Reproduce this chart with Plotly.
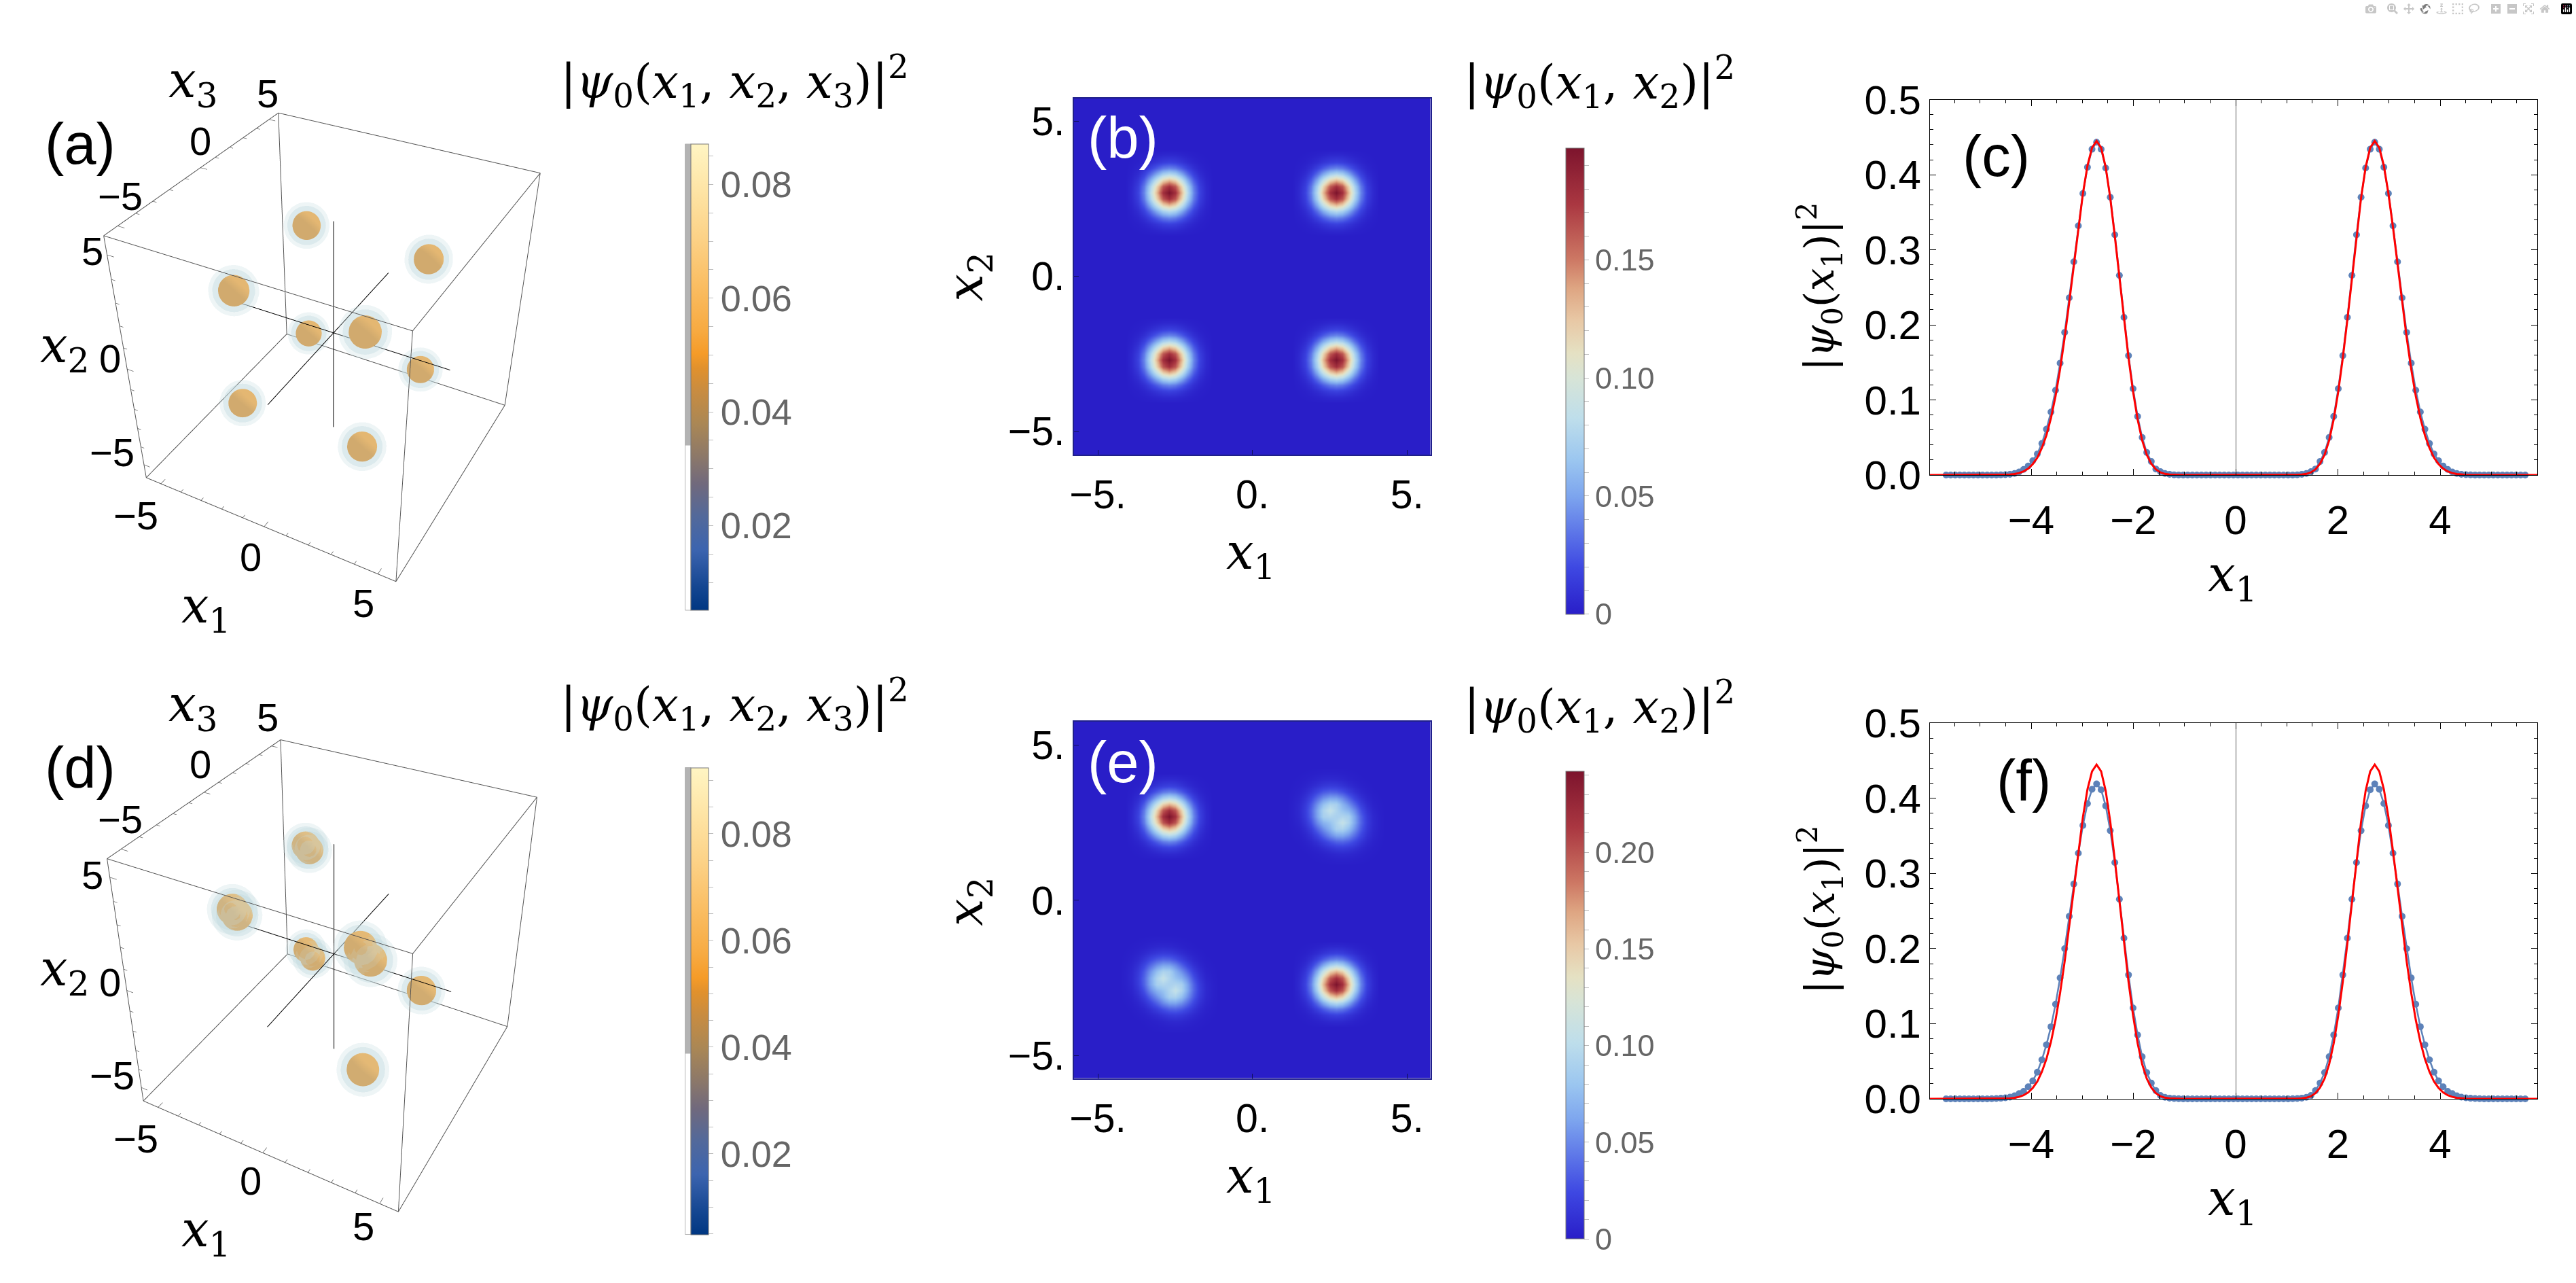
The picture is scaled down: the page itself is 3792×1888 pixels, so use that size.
import numpy as np
import plotly.graph_objects as go

W, H = 3792, 1888

# ---- data -----------------------------------------------------------------
# panels (a)/(d): density lobes (x1, x2, x3)
a_x1 = [-2.72, -2.72, -2.72, -2.72, 2.72, 2.72, 2.72, 2.72]
a_x2 = [2.72, 2.72, -2.72, -2.72, 2.72, 2.72, -2.72, -2.72]
a_x3 = [-2.72, 2.72, -2.72, 2.72, -2.72, 2.72, -2.72, 2.72]
a_core_r = [0.58, 0.58, 0.58, 0.58, 0.58, 0.58, 0.58, 0.58]

d_x1 = [-2.81, -2.63, -2.82, -2.62, -2.89, -2.55, 2.52, 2.92, 2.72, 2.72]
d_x2 = [2.81, 2.63, 2.82, 2.62, -2.55, -2.89, 2.92, 2.52, -2.72, -2.72]
d_x3 = [2.72, 2.72, -2.72, -2.72, 2.72, 2.72, -2.72, -2.72, 2.72, -2.72]
d_core_r = [0.58, 0.58, 0.58, 0.58, 0.56, 0.56, 0.58, 0.58, 0.62, 0.62]

box_edge = 5.75
axis_half = 5.0
tick_3d = [-5, -4, -3, -2, -1, 0, 1, 2, 3, 4, 5]

a_bar_min, a_bar_max, a_iso = 0.0051, 0.0871, 0.0520
d_bar_min, d_bar_max, d_iso = 0.0049, 0.0924, 0.0560

# panels (b)/(e): one read-off peak, quarter of it, offsets in steps of 0.2
peak_quadrant = [
    [1.000, 0.905, 0.670, 0.407, 0.202, 0.082, 0.027],
    [0.905, 0.819, 0.607, 0.368, 0.183, 0.074, 0.025],
    [0.670, 0.607, 0.449, 0.273, 0.135, 0.055, 0.018],
    [0.407, 0.368, 0.273, 0.165, 0.082, 0.033, 0.011],
    [0.202, 0.183, 0.135, 0.082, 0.041, 0.017, 0.0055],
    [0.082, 0.074, 0.055, 0.033, 0.017, 0.0067, 0.0022],
    [0.027, 0.025, 0.018, 0.011, 0.0055, 0.0022, 0.0008],
]
notch_quadrant = [[1.0, 0.5], [0.5, 0.2]]
grid_axis = [round(-5.9 + 0.2 * k, 1) for k in range(60)]

b_px = [-2.7, 2.7, -2.7, 2.7]
b_py = [2.7, 2.7, -2.7, -2.7]
b_amp = [0.1974, 0.1974, 0.1974, 0.1974]
b_max = 0.1974

e_px = [-2.7, 2.7, 2.5, 2.9, -2.9, -2.5]
e_py = [2.7, -2.7, 2.9, 2.5, -2.5, -2.9]
e_amp = [0.242, 0.242, 0.078, 0.078, 0.078, 0.078]
e_notch_x = [2.7, 2.9, 2.5, -2.7, -2.5, -2.9]
e_notch_y = [2.7, 2.9, 2.5, -2.7, -2.5, -2.9]
e_notch_amp = [-0.03, -0.02, -0.02, -0.03, -0.02, -0.02]
e_max = 0.242

# panels (c)/(f): x>0 half of each curve (the left half mirrors it)
dot_x = [round(0.0446 + 0.0892 * k, 4) for k in range(64)]
c_dots = [0, 0, 0, 0, 0, 0, 0, 0, 0, 0, 0, 0, 0.0001, 0.0003, 0.001, 0.002,
          0.0045, 0.008, 0.018, 0.03, 0.05, 0.078, 0.115, 0.159, 0.21, 0.266, 0.32, 0.37,
          0.409, 0.434, 0.4434, 0.434, 0.41, 0.375, 0.332, 0.284, 0.236, 0.19, 0.149, 0.113,
          0.084, 0.061, 0.042, 0.028, 0.019, 0.012, 0.0075, 0.004, 0.002, 0.001, 0.0005,
          0.0003, 0.0001, 0, 0, 0, 0, 0, 0, 0, 0, 0, 0, 0]
f_dots = [0, 0, 0, 0, 0, 0, 0, 0, 0, 0, 0, 0, 0.0002, 0.0005, 0.001, 0.002,
          0.0046, 0.011, 0.021, 0.035, 0.056, 0.085, 0.121, 0.165, 0.214, 0.2657, 0.3146, 0.357,
          0.39, 0.4115, 0.4192, 0.412, 0.393, 0.364, 0.327, 0.286, 0.243, 0.2, 0.161, 0.126,
          0.096, 0.072, 0.052, 0.0355, 0.024, 0.016, 0.01, 0.0069, 0.004, 0.0023, 0.0014,
          0.0008, 0.0004, 0.0002, 0, 0, 0, 0, 0, 0, 0, 0, 0, 0]
red_y = [0, 0, 0, 0, 0, 0, 0, 0, 0, 0, 0, 0, 0.0001, 0.0003, 0.0007, 0.0015,
         0.0035, 0.0075, 0.015, 0.027, 0.046, 0.074, 0.111, 0.156, 0.207, 0.263, 0.318, 0.369,
         0.41, 0.436, 0.445, 0.436, 0.412, 0.375, 0.33, 0.28, 0.23, 0.183, 0.141, 0.105,
         0.076, 0.053, 0.036, 0.023, 0.0145, 0.0085, 0.0048, 0.0026, 0.0013, 0.0006, 0.0003,
         0.0001, 0, 0, 0, 0, 0, 0, 0, 0, 0, 0, 0, 0]
red_ends = [-6.02, 5.93]

# ---- colour scales ----------------------------------------------------------
heat_scale = [[0, "rgb(41,30,200)"], [0.1, "rgb(62,72,226)"], [0.254, "rgb(125,165,238)"],
              [0.33, "rgb(155,198,240)"], [0.42, "rgb(190,222,235)"], [0.506, "rgb(215,228,215)"],
              [0.56, "rgb(229,225,195)"], [0.63, "rgb(232,200,165)"], [0.7, "rgb(222,165,130)"],
              [0.761, "rgb(205,120,100)"], [0.88, "rgb(170,55,65)"], [1, "rgb(125,20,45)"]]
iso_scale = [[0, "rgb(0,55,130)"], [0.05, "rgb(20,70,145)"], [0.13, "rgb(60,100,175)"],
             [0.2, "rgb(82,105,155)"], [0.27, "rgb(112,105,125)"], [0.33, "rgb(140,120,105)"],
             [0.4, "rgb(170,135,85)"], [0.47, "rgb(200,140,65)"], [0.52, "rgb(225,145,45)"],
             [0.55, "rgb(245,155,40)"], [0.6, "rgb(247,170,65)"], [0.7, "rgb(250,190,100)"],
             [0.8, "rgb(252,210,135)"], [0.9, "rgb(254,228,165)"], [1, "rgb(255,245,195)"]]

SANS = "Liberation Sans"
SERIF = "DejaVu Serif"
CB_GREY = "#666666"
TITLE_SIZE = 69
AXIS_SIZE = 72
PANEL_SIZE = 85


def px_x(v):
    return v / W


def px_y(v):
    return 1 - v / H


fig = go.Figure()
notes = []
shapes = []


def note(x, y, text, size=58, color="black", family=SANS, angle=0):
    notes.append(dict(x=px_x(x), y=px_y(y), xref="paper", yref="paper", text=text, showarrow=False,
                      font=dict(size=size, color=color, family=family), xanchor="center",
                      yanchor="middle", textangle=angle))


def colorbar(x0, x1, y0, y1, vals, labels, size):
    return dict(x=px_x(x0), xanchor="left", xpad=0, y=px_y(y0), yanchor="top",
                ypad=0, len=(y1 - y0) / H, lenmode="fraction", thickness=x1 - x0, thicknessmode="pixels",
                tickmode="array", tickvals=vals, ticktext=labels, ticks="outside", ticklen=7,
                tickwidth=1, tickcolor="#bdbdbd", outlinewidth=1, outlinecolor="#777777",
                tickfont=dict(family=SANS, size=size, color=CB_GREY))


# ---- 3D panels ----------------------------------------------------------------
def spheres(xs1, xs2, xs3, radii):
    vx, vy, vz, fi, fj, fk = [], [], [], [], [], []
    nlat, nlon = 16, 24
    th = np.linspace(0, np.pi, nlat + 1)
    ph = np.linspace(0, 2 * np.pi, nlon, endpoint=False)
    for c1, c2, c3, r in zip(xs1, xs2, xs3, radii):
        base = len(vx)
        for t in th:
            for p in ph:
                vx.append(c1 + r * np.sin(t) * np.cos(p))
                vy.append(c3 + r * np.sin(t) * np.sin(p))
                vz.append(c2 + r * np.cos(t))
        for a in range(nlat):
            for b in range(nlon):
                p1 = base + a * nlon + b
                p2 = base + a * nlon + (b + 1) % nlon
                p3 = base + (a + 1) * nlon + b
                p4 = base + (a + 1) * nlon + (b + 1) % nlon
                fi += [p1, p2]
                fj += [p2, p4]
                fk += [p3, p3]
    return vx, vy, vz, fi, fj, fk


def panel_3d(scene, xs1, xs2, xs3, core_r, iso, vmin, vmax, cbar):
    s = box_edge
    corners = [(-s, -s, -s), (s, -s, -s), (s, s, -s), (-s, s, -s), (-s, -s, -s), (-s, -s, s), (s, -s, s),
               (s, s, s), (-s, s, s), (-s, -s, s), (None,) * 3, (s, -s, -s), (s, -s, s), (None,) * 3,
               (s, s, -s), (s, s, s), (None,) * 3, (-s, s, -s), (-s, s, s)]
    fig.add_trace(go.Scatter3d(x=[c[0] for c in corners], y=[c[1] for c in corners], z=[c[2] for c in corners],
                               mode="lines", line=dict(color="#555555", width=2), scene=scene,
                               showlegend=False, hoverinfo="skip"))
    # black axes through the origin
    a = axis_half
    fig.add_trace(go.Scatter3d(x=[-a, a, None, 0, 0, None, 0, 0], y=[0, 0, None, -a, a, None, 0, 0],
                               z=[0, 0, None, 0, 0, None, -a, a], mode="lines",
                               line=dict(color="black", width=2), scene=scene, showlegend=False,
                               hoverinfo="skip"))
    # small ticks on the three labelled edges
    tx, ty, tz = [], [], []
    for t in tick_3d:
        L = 0.3 if t % 5 == 0 else 0.17
        tx += [t, t, None]
        ty += [-s, -s + L, None]
        tz += [-s, -s, None]
        tx += [-s, -s + L, None]
        ty += [t, t, None]
        tz += [s, s, None]
        tx += [-s, -s + L, None]
        ty += [-s, -s, None]
        tz += [t, t, None]
    fig.add_trace(go.Scatter3d(x=tx, y=ty, z=tz, mode="lines", line=dict(color="#666666", width=1.5),
                               scene=scene, showlegend=False, hoverinfo="skip"))
    # orange core, coloured through the colour bar scale
    vx, vy, vz, fi, fj, fk = spheres(xs1, xs2, xs3, core_r)
    fig.add_trace(go.Mesh3d(x=vx, y=vy, z=vz, i=fi, j=fj, k=fk, intensity=[iso] * len(vx), cmin=vmin, cmax=vmax,
                            colorscale=iso_scale, showscale=True, colorbar=cbar, scene=scene,
                            flatshading=False, hoverinfo="skip",
                            lighting=dict(ambient=0.88, diffuse=0.22, specular=0.0, roughness=1.0, fresnel=0.0)))
    # pale halo in two shells
    for grow, op in ((1.36, 0.24), (1.62, 0.16)):
        vx, vy, vz, fi, fj, fk = spheres(xs1, xs2, xs3, [r * grow for r in core_r])
        fig.add_trace(go.Mesh3d(x=vx, y=vy, z=vz, i=fi, j=fj, k=fk, color="rgb(196,220,224)", opacity=op,
                                scene=scene, hoverinfo="skip",
                                lighting=dict(ambient=1.0, diffuse=0.0, specular=0.0, roughness=1.0, fresnel=0.0)))


a_vals = [0.005, 0.01, 0.015, 0.02, 0.025, 0.03, 0.035, 0.04, 0.045, 0.05, 0.055, 0.06, 0.065, 0.07, 0.075, 0.08, 0.085]
a_text = ["", "", "", "0.02", "", "", "", "0.04", "", "", "", "0.06", "", "", "", "0.08", ""]
d_vals = a_vals + [0.09]
d_text = a_text + [""]

panel_3d("scene", a_x1, a_x2, a_x3, a_core_r, a_iso, a_bar_min, a_bar_max,
         colorbar(1017, 1042.6, 212, 898, a_vals, a_text, 54))
panel_3d("scene2", d_x1, d_x2, d_x3, d_core_r, d_iso, d_bar_min, d_bar_max,
         colorbar(1017, 1042.6, 1129.5, 1816.5, d_vals, d_text, 54))

TAN = np.tan(np.pi / 8)
cam_a = dict(eye=[1.258, -2.333, 1.931], fw=[-0.362, 0.679, -0.639], up=[-0.304, 0.562, 0.770], f=1397, cx=496)
cam_d = dict(eye=[1.252, -2.311, 1.936], fw=[-0.405, 0.739, -0.539], up=[-0.257, 0.474, 0.842], f=1390, cx=486)


def scene_layout(ft, bottom):
    Hs = 2 * ft["f"] * TAN
    y0 = H - Hs if bottom else 0
    y1 = H if bottom else Hs
    eye = np.array(ft["eye"])
    fw = np.array(ft["fw"])
    centre = eye + fw * np.linalg.norm(eye)
    ax = dict(visible=False, range=[-box_edge, box_edge], autorange=False)
    return dict(domain=dict(x=[0, 2 * ft["cx"] / W], y=[px_y(y1), px_y(y0)]),
                xaxis=ax, yaxis=ax, zaxis=ax, aspectmode="manual", aspectratio=dict(x=1, y=1, z=1),
                bgcolor="rgba(0,0,0,0)",
                camera=dict(eye=dict(x=eye[0], y=eye[1], z=eye[2]),
                            center=dict(x=centre[0], y=centre[1], z=centre[2]),
                            up=dict(x=ft["up"][0], y=ft["up"][1], z=ft["up"][2]),
                            projection=dict(type="perspective")))


# ---- heat maps -----------------------------------------------------------------
def stamp(z, xs, ys, amps, quadrant):
    n = len(quadrant)
    for x, y, amp in zip(xs, ys, amps):
        ix = round((x - grid_axis[0]) / 0.2)
        iy = round((y - grid_axis[0]) / 0.2)
        for i in range(-n + 1, n):
            for j in range(-n + 1, n):
                z[iy + i][ix + j] += amp * quadrant[abs(i)][abs(j)]


b_z = np.zeros((len(grid_axis), len(grid_axis)))
stamp(b_z, b_px, b_py, b_amp, peak_quadrant)
e_z = np.zeros((len(grid_axis), len(grid_axis)))
stamp(e_z, e_px, e_py, e_amp, peak_quadrant)
stamp(e_z, e_notch_x, e_notch_y, e_notch_amp, notch_quadrant)

hb_vals = [round(0.01 * k, 2) for k in range(0, 20)]
hb_text = ["0" if k == 0 else ("%.2f" % (k * 0.01) if k % 5 == 0 else "") for k in range(0, 20)]
he_vals = [round(0.01 * k, 2) for k in range(0, 25)]
he_text = ["0" if k == 0 else ("%.2f" % (k * 0.01) if k % 5 == 0 else "") for k in range(0, 25)]

fig.add_trace(go.Heatmap(x=grid_axis, y=grid_axis, z=b_z, zmin=0, zmax=b_max, colorscale=heat_scale, zsmooth="best",
                         xaxis="x", yaxis="y", hoverinfo="skip",
                         colorbar=colorbar(2304.5, 2331, 217.6, 904, hb_vals, hb_text, 45)))
fig.add_trace(go.Heatmap(x=grid_axis, y=grid_axis, z=e_z, zmin=0, zmax=e_max, colorscale=heat_scale, zsmooth="best",
                         xaxis="x3", yaxis="y3", hoverinfo="skip",
                         colorbar=colorbar(2304.5, 2331, 1135, 1822.6, he_vals, he_text, 45)))


# ---- line panels ---------------------------------------------------------------
def mirror(xs, ys):
    return [-v for v in xs[::-1]] + list(xs), list(ys[::-1]) + list(ys)


def line_panel(xa, ya, dots):
    dx, dy = mirror(dot_x, dots)
    fig.add_trace(go.Scatter(x=dx, y=dy, mode="lines+markers", xaxis=xa, yaxis=ya, cliponaxis=False,
                             line=dict(color="#5d82b9", width=2.5), marker=dict(color="#5d82b9", size=10),
                             showlegend=False, hoverinfo="skip"))
    rx, ry = mirror(dot_x, red_y)
    fig.add_trace(go.Scatter(x=[red_ends[0]] + rx + [red_ends[1]], y=[0] + ry + [0], mode="lines", xaxis=xa, yaxis=ya,
                             cliponaxis=False, line=dict(color="#ff0000", width=3), showlegend=False,
                             hoverinfo="skip"))


line_panel("x2", "y2", c_dots)
line_panel("x4", "y4", f_dots)


def heat_axes(x0, x1, y0, y1, xr, yr, anchor):
    tv = [-5, 0, 5]
    tt = ["\u22125.", "0.", "5."]
    xa = dict(domain=[px_x(x0), px_x(x1)], range=xr, tickmode="array", tickvals=tv, ticktext=tt, ticks="inside",
              ticklen=7, tickcolor="#10105a", linecolor="#20208a", linewidth=1.5, mirror=True, showgrid=False,
              zeroline=False, tickfont=dict(family=SANS, size=59, color="black"), anchor=anchor[1],
              ticklabelstandoff=6)
    ya = dict(domain=[px_y(y1), px_y(y0)], range=yr, tickmode="array", tickvals=tv, ticktext=tt, ticks="inside",
              ticklen=7, tickcolor="#10105a", linecolor="#20208a", linewidth=1.5, mirror=True, showgrid=False,
              zeroline=False, tickfont=dict(family=SANS, size=59, color="black"), anchor=anchor[0])
    return xa, ya


def line_axes(x0, x1, y0, y1, anchor):
    xa = dict(domain=[px_x(x0), px_x(x1)], range=[-5.98, 5.9], tickmode="array", tickvals=[-4, -2, 0, 2, 4],
              ticktext=["\u22124", "\u22122", "0", "2", "4"], ticks="inside", ticklen=9, tickcolor="black",
              linecolor="black", linewidth=1, mirror="ticks", showgrid=False, zeroline=True,
              zerolinecolor="#555555", zerolinewidth=1, tickfont=dict(family=SANS, size=60, color="black"),
              anchor=anchor[1], minor=dict(dtick=0.5, tick0=0, ticks="inside", ticklen=5, tickcolor="black"),
              ticklabelstandoff=14)
    ya = dict(domain=[px_y(y1), px_y(y0)], range=[0, 0.5], tickmode="array", tickvals=[0, 0.1, 0.2, 0.3, 0.4, 0.5],
              ticktext=["0.0", "0.1", "0.2", "0.3", "0.4", "0.5"], ticks="inside", ticklen=9, tickcolor="black",
              linecolor="black", linewidth=1, mirror="ticks", showgrid=False, zeroline=False,
              tickfont=dict(family=SANS, size=60, color="black"), anchor=anchor[0],
              minor=dict(dtick=0.02, tick0=0, ticks="inside", ticklen=5, tickcolor="black"))
    return xa, ya


xa1, ya1 = heat_axes(1581, 2105.5, 144.5, 669, [-5.77, 5.75], [-5.75, 5.75], ("x", "y"))
xa3, ya3 = heat_axes(1581, 2105.5, 1061.5, 1587, [-5.77, 5.75], [-5.74, 5.77], ("x3", "y3"))
xa2, ya2 = line_axes(2841, 3735, 146.7, 699, ("x2", "y2"))
xa4, ya4 = line_axes(2841, 3735, 1064.3, 1617, ("x4", "y4"))


# ---- text ----------------------------------------------------------------------
def it(v, sub=None):
    return f"<i>{v}</i>" + (f"<sub>{sub}</sub>" if sub is not None else "")


T3 = "|" + it("\u03c8", 0) + "(" + it("x", 1) + ", " + it("x", 2) + ", " + it("x", 3) + ")|<sup>2</sup>"
T2 = "|" + it("\u03c8", 0) + "(" + it("x", 1) + ", " + it("x", 2) + ")|<sup>2</sup>"
T1 = "|" + it("\u03c8", 0) + "(" + it("x", 1) + ")|<sup>2</sup>"
M = "\u2212"

for dy, title_y, lab, lab_y in ((0, 119, "(a)", 211), (917.7, 1036, "(d)", 1129)):
    note(1081.5, title_y, T3, size=TITLE_SIZE, family=SERIF)
    note(118, lab_y, lab, size=PANEL_SIZE)
    for x, y, t in ((393.5, 138, "5"), (294.5, 207, "0"), (176.5, 288, M + "5"),
                    (136, 370, "5"), (162, 527.6, "0"), (165, 665, M + "5"),
                    (200, 758, M + "5"), (368.5, 819.5, "0"), (534.7, 887, "5")):
        note(x, y + dy, t, size=58)
    note(284, 123 + dy, it("x", 3), size=AXIS_SIZE, family=SERIF)
    note(95, 512.6 + dy, it("x", 2), size=AXIS_SIZE, family=SERIF)
    note(303, 896 + dy, it("x", 1), size=AXIS_SIZE, family=SERIF)

for title_y, lab, lab_y, x1_y, x2_y in ((120, "(b)", 202.6, 816.5, 407.7), (1039, "(e)", 1121, 1734.6, 1327)):
    note(2354, title_y, T2, size=TITLE_SIZE, family=SERIF)
    note(1653, lab_y, lab, size=PANEL_SIZE, color="white")
    note(1841.5, x1_y, it("x", 1), size=AXIS_SIZE, family=SERIF)
    note(1426, x2_y, it("x", 2), size=AXIS_SIZE, family=SERIF, angle=-90)

note(2938, 230, "(c)", size=PANEL_SIZE)
note(2978.6, 1148, "(f)", size=PANEL_SIZE)
note(2678, 422, T1, size=60, family=SERIF, angle=-90)
note(2679, 1339, T1, size=60, family=SERIF, angle=-90)
note(3286, 850, it("x", 1), size=AXIS_SIZE, family=SERIF)
note(3286, 1768, it("x", 1), size=AXIS_SIZE, family=SERIF)

# opacity strip beside the two 3D colour bars
for top, mid, bot in ((212, 655, 898), (1129.5, 1550, 1816.5)):
    shapes.append(dict(type="rect", xref="paper", yref="paper", x0=px_x(1008.5), x1=px_x(1017), y0=px_y(mid), y1=px_y(top),
                       fillcolor="#b3b3b3", line=dict(color="#b3b3b3", width=1)))
    shapes.append(dict(type="rect", xref="paper", yref="paper", x0=px_x(1008.5), x1=px_x(1017), y0=px_y(bot), y1=px_y(mid),
                       fillcolor="white", line=dict(color="#b3b3b3", width=1)))

fig.update_layout(width=W, height=H, autosize=False, paper_bgcolor="white",
                  margin=dict(l=0, r=0, t=0, b=0, pad=0, autoexpand=False),
                  plot_bgcolor="white", showlegend=False, annotations=notes, shapes=shapes,
                  scene=scene_layout(cam_a, False), scene2=scene_layout(cam_d, True),
                  xaxis=xa1, yaxis=ya1, xaxis3=xa3, yaxis3=ya3, xaxis2=xa2, yaxis2=ya2, xaxis4=xa4, yaxis4=ya4)
fig.write_html("out.html", post_script="document.body.style.margin='0';document.documentElement.style.overflow='hidden';")
